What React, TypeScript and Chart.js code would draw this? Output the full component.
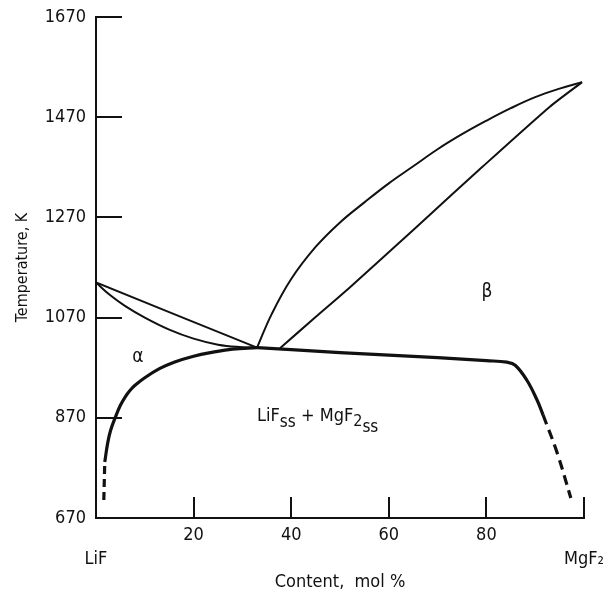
import { useEffect, useRef } from "react";
import { Chart, registerables } from "chart.js";

Chart.register(...registerables);

const FONT = "'Liberation Sans Narrow', 'Arial Narrow', 'DejaVu Sans Condensed', sans-serif";
const INK = "#111111";

// Axis ticks
const xTickValues = [0, 20, 40, 60, 80, 100];
const xTickLabels = ["LiF", "20", "40", "60", "80", "MgF₂"];
const yTickValues = [670, 870, 1070, 1270, 1470, 1670];

// Phase boundaries (content mol %, temperature K)
const liquidusAlphaX = [0, 16, 33];
const liquidusAlphaY = [1140, 1077, 1010];

const solidusAlphaX = [0, 3, 6, 10, 15, 20, 25, 30, 33];
const solidusAlphaY = [1140, 1114, 1093, 1070, 1046, 1028, 1016, 1011, 1010];

const solvusAlphaDashX = [1.6, 1.8];
const solvusAlphaDashY = [706, 782];
const solvusAlphaX = [1.8, 2.4, 3, 4, 5, 6, 7, 8, 10, 13, 16, 20, 24, 28, 33];
const solvusAlphaY = [782, 820, 845, 872, 895, 912, 925, 935, 950, 968, 981, 993, 1001, 1007, 1010];

const eutecticX = [33, 40, 50, 60, 70, 80, 84.2, 85.9, 88.3, 90.4, 91.6];
const eutecticY = [1010, 1006, 1000, 995, 990, 984, 981, 975, 945, 905, 876];
const solvusBetaDashX = [91.6, 94.5, 97.3];
const solvusBetaDashY = [876, 800, 710];

const liquidusBetaX = [33, 36, 40, 45, 50, 55, 60, 65, 70, 75, 80, 85, 90, 95, 99.6];
const liquidusBetaY = [1010, 1077, 1147, 1211, 1260, 1300, 1338, 1372, 1406, 1436, 1463, 1488, 1510, 1527, 1540];

const solidusBetaX = [37.7, 45, 52, 65.8, 79.3, 93, 99.6];
const solidusBetaY = [1009, 1071, 1130, 1252, 1372, 1491, 1540];

// Region labels (data coordinates)
const alphaLabel = { text: "α", x: 8.6, y: 991 };
const betaLabel = { text: "β", x: 80.1, y: 1121 };
const twoPhaseLabel = { x: 33, y: 864 };

const pts = (xs: number[], ys: number[]) => xs.map((x, i) => ({ x, y: ys[i] }));

const line = (xs: number[], ys: number[], width: number, dash: number[] = [], tension = 0.4) => ({
  data: pts(xs, ys),
  showLine: true,
  borderColor: INK,
  borderWidth: width,
  borderDash: dash,
  pointRadius: 0,
  fill: false,
  tension,
  borderCapStyle: "butt",
  borderJoinStyle: "round",
});

const decorPlugin = {
  id: "decor",
  afterDraw(chart: any) {
    const { ctx, chartArea, scales } = chart;
    const xs = scales.x;
    const ys = scales.y;
    ctx.save();
    ctx.strokeStyle = INK;
    ctx.lineWidth = 2;
    // inward tick marks
    yTickValues.slice(1).forEach((v) => {
      const py = Math.round(ys.getPixelForValue(v));
      ctx.beginPath();
      ctx.moveTo(chartArea.left, py);
      ctx.lineTo(chartArea.left + 26, py);
      ctx.stroke();
    });
    xTickValues.slice(1).forEach((v) => {
      const px = Math.round(xs.getPixelForValue(v));
      ctx.beginPath();
      ctx.moveTo(px, chartArea.bottom);
      ctx.lineTo(px, chartArea.bottom - 21);
      ctx.stroke();
    });

    // region labels
    ctx.fillStyle = INK;
    ctx.textBaseline = "middle";
    ctx.textAlign = "center";
    ctx.font = `19px ${FONT}`;
    [alphaLabel, betaLabel].forEach((l) => {
      ctx.fillText(l.text, xs.getPixelForValue(l.x), ys.getPixelForValue(l.y));
    });

    // LiF_ss + MgF2_ss
    ctx.textAlign = "left";
    ctx.textBaseline = "alphabetic";
    let cx = xs.getPixelForValue(twoPhaseLabel.x);
    const base = ys.getPixelForValue(twoPhaseLabel.y);
    const parts: [string, number, number][] = [
      ["LiF", 18, 0],
      ["ss", 17, 6],
      [" + MgF", 18, 0],
      ["2", 16, 5],
      ["ss", 17, 11],
    ];
    parts.forEach(([t, size, dy]) => {
      ctx.font = `${size}px ${FONT}`;
      ctx.fillText(t, cx, base + dy);
      cx += ctx.measureText(t).width;
    });
    ctx.restore();
  },
};

export default function App() {
  const ref = useRef<HTMLCanvasElement>(null);

  useEffect(() => {
    if (!ref.current) return;
    const chart = new Chart(ref.current, {
      type: "scatter",
      data: {
        datasets: [
          line(liquidusAlphaX, liquidusAlphaY, 2, [], 0),
          line(solidusAlphaX, solidusAlphaY, 2),
          line(solvusAlphaX, solvusAlphaY, 3.2),
          line(solvusAlphaDashX, solvusAlphaDashY, 3.2, [8, 5], 0),
          line(eutecticX, eutecticY, 3.2),
          line(solvusBetaDashX, solvusBetaDashY, 3.2, [10, 6]),
          line(liquidusBetaX, liquidusBetaY, 2),
          line(solidusBetaX, solidusBetaY, 2, [], 0.2),
        ] as any,
      },
      options: {
        animation: false,
        responsive: true,
        maintainAspectRatio: false,
        layout: { padding: { left: 0, right: 25, top: 17, bottom: 0 } },
        plugins: {
          legend: { display: false },
          tooltip: { enabled: false },
        },
        scales: {
          x: {
            type: "linear",
            min: 0,
            max: 100,
            afterBuildTicks: (s: any) => {
              s.ticks = xTickValues.map((v) => ({ value: v }));
            },
            afterFit: (s: any) => {
              s.height = 83;
              s.paddingLeft = 0;
              s.paddingRight = 0;
            },
            grid: { display: false, drawTicks: false },
            border: { display: true, color: INK, width: 2 },
            ticks: {
              color: INK,
              padding: 5,
              maxRotation: 0,
              autoSkip: false,
              font: { family: FONT, size: 18, lineHeight: 1.35 },
              callback: (v: any) => {
                const i = xTickValues.indexOf(Number(v));
                const lab = i >= 0 ? xTickLabels[i] : String(v);
                return i === 0 || i === xTickValues.length - 1 ? ["", lab] : lab;
              },
            },
            title: {
              display: true,
              text: "Content,  mol %",
              color: INK,
              font: { family: FONT, size: 18 },
              padding: { top: 0, bottom: 8 },
            },
          },
          y: {
            type: "linear",
            min: 670,
            max: 1670,
            afterBuildTicks: (s: any) => {
              s.ticks = yTickValues.map((v) => ({ value: v }));
            },
            afterFit: (s: any) => {
              s.width = 96;
              s.paddingTop = 0;
              s.paddingBottom = 0;
            },
            grid: { display: false, drawTicks: false },
            border: { display: true, color: INK, width: 2 },
            ticks: {
              color: INK,
              padding: 10,
              autoSkip: false,
              font: { family: FONT, size: 18 },
              callback: (v: any) => String(v),
            },
            title: {
              display: true,
              text: "Temperature, K",
              color: INK,
              font: { family: FONT, size: 16 },
              padding: { top: 13, bottom: 0 },
            },
          },
        },
      },
      plugins: [decorPlugin],
    });
    return () => chart.destroy();
  }, []);

  return (
    <div style={{ position: "absolute", left: 0, top: 0, width: 609, height: 601 }}>
      <canvas ref={ref} />
    </div>
  );
}
